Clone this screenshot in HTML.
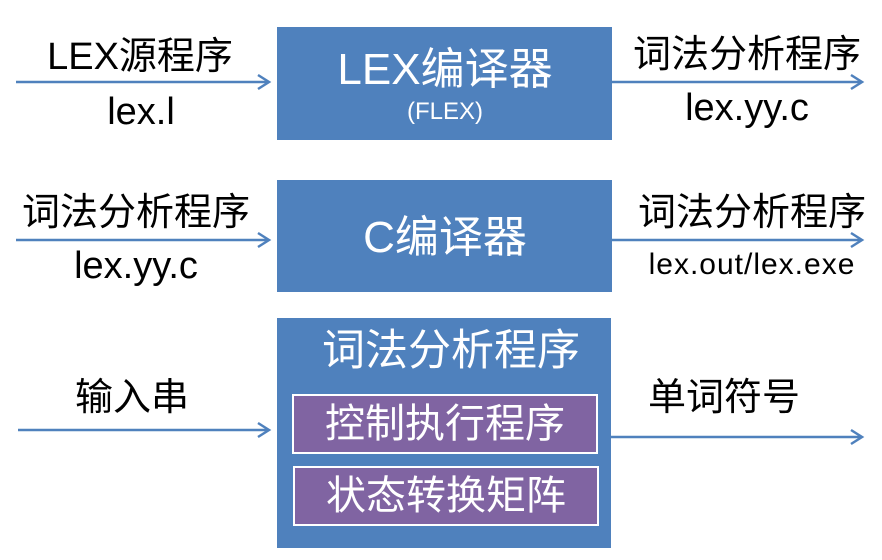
<!DOCTYPE html>
<html><head><meta charset="utf-8"><style>
body{margin:0;width:882px;height:560px;background:#fff;position:relative;overflow:hidden;font-family:"Liberation Sans","Noto Sans CJK SC",sans-serif}
.t{position:absolute;white-space:nowrap;text-align:center;transform:translateX(-50%);line-height:1;color:#000}
.box{position:absolute;background:#4F81BD}
.w{color:#fff}
.p{position:absolute;background:#8064A2;border:2px solid #fff;box-sizing:border-box;color:#fff;font-size:40px;text-align:center}
</style></head><body>
<div class="box" style="left:277px;top:27px;width:335px;height:113px"></div>
<div class="box" style="left:277px;top:180px;width:335px;height:112px"></div>
<div class="box" style="left:277px;top:318px;width:334px;height:230px"></div>
<div class="p" style="left:292px;top:394px;width:306px;height:60px;line-height:56px">控制执行程序</div>
<div class="p" style="left:293px;top:466px;width:306px;height:60px;line-height:56px">状态转换矩阵</div>
<svg width="882" height="560" style="position:absolute;left:0;top:0">
<g stroke="#4F81BD" stroke-width="2.5" fill="none">
<line x1="16" y1="82" x2="268" y2="82"/><polyline points="258,75 269,82 258,89"/>
<line x1="612" y1="82" x2="861" y2="82"/><polyline points="851,75 862,82 851,89"/>
<line x1="16" y1="240" x2="268" y2="240"/><polyline points="258,233 269,240 258,247"/>
<line x1="612" y1="240" x2="861" y2="240"/><polyline points="851,233 862,240 851,247"/>
<line x1="18" y1="430" x2="268" y2="430"/><polyline points="258,423 269,430 258,437"/>
<line x1="611" y1="437" x2="861" y2="437"/><polyline points="851,430 862,437 851,444"/>
</g></svg>
<div class="t w" style="left:445px;top:48px;font-size:44px">LEX编译器</div>
<div class="t w" style="left:445px;top:100px;font-size:24px">(FLEX)</div>
<div class="t w" style="left:445px;top:216px;font-size:44px">C编译器</div>
<div class="t w" style="left:451px;top:330px;font-size:43px">词法分析程序</div>
<div class="t" style="left:140px;top:38px;font-size:38px">LEX源程序</div>
<div class="t" style="left:141px;top:93px;font-size:38px">lex.l</div>
<div class="t" style="left:747px;top:36px;font-size:38px">词法分析程序</div>
<div class="t" style="left:747px;top:89px;font-size:38px">lex.yy.c</div>
<div class="t" style="left:136px;top:194px;font-size:38px">词法分析程序</div>
<div class="t" style="left:136px;top:247px;font-size:38px">lex.yy.c</div>
<div class="t" style="left:752px;top:194px;font-size:38px">词法分析程序</div>
<div class="t" style="left:752px;top:250px;font-size:30px;letter-spacing:1px">lex.out/lex.exe</div>
<div class="t" style="left:132px;top:379px;font-size:38px">输入串</div>
<div class="t" style="left:724px;top:379px;font-size:38px">单词符号</div>
</body></html>
